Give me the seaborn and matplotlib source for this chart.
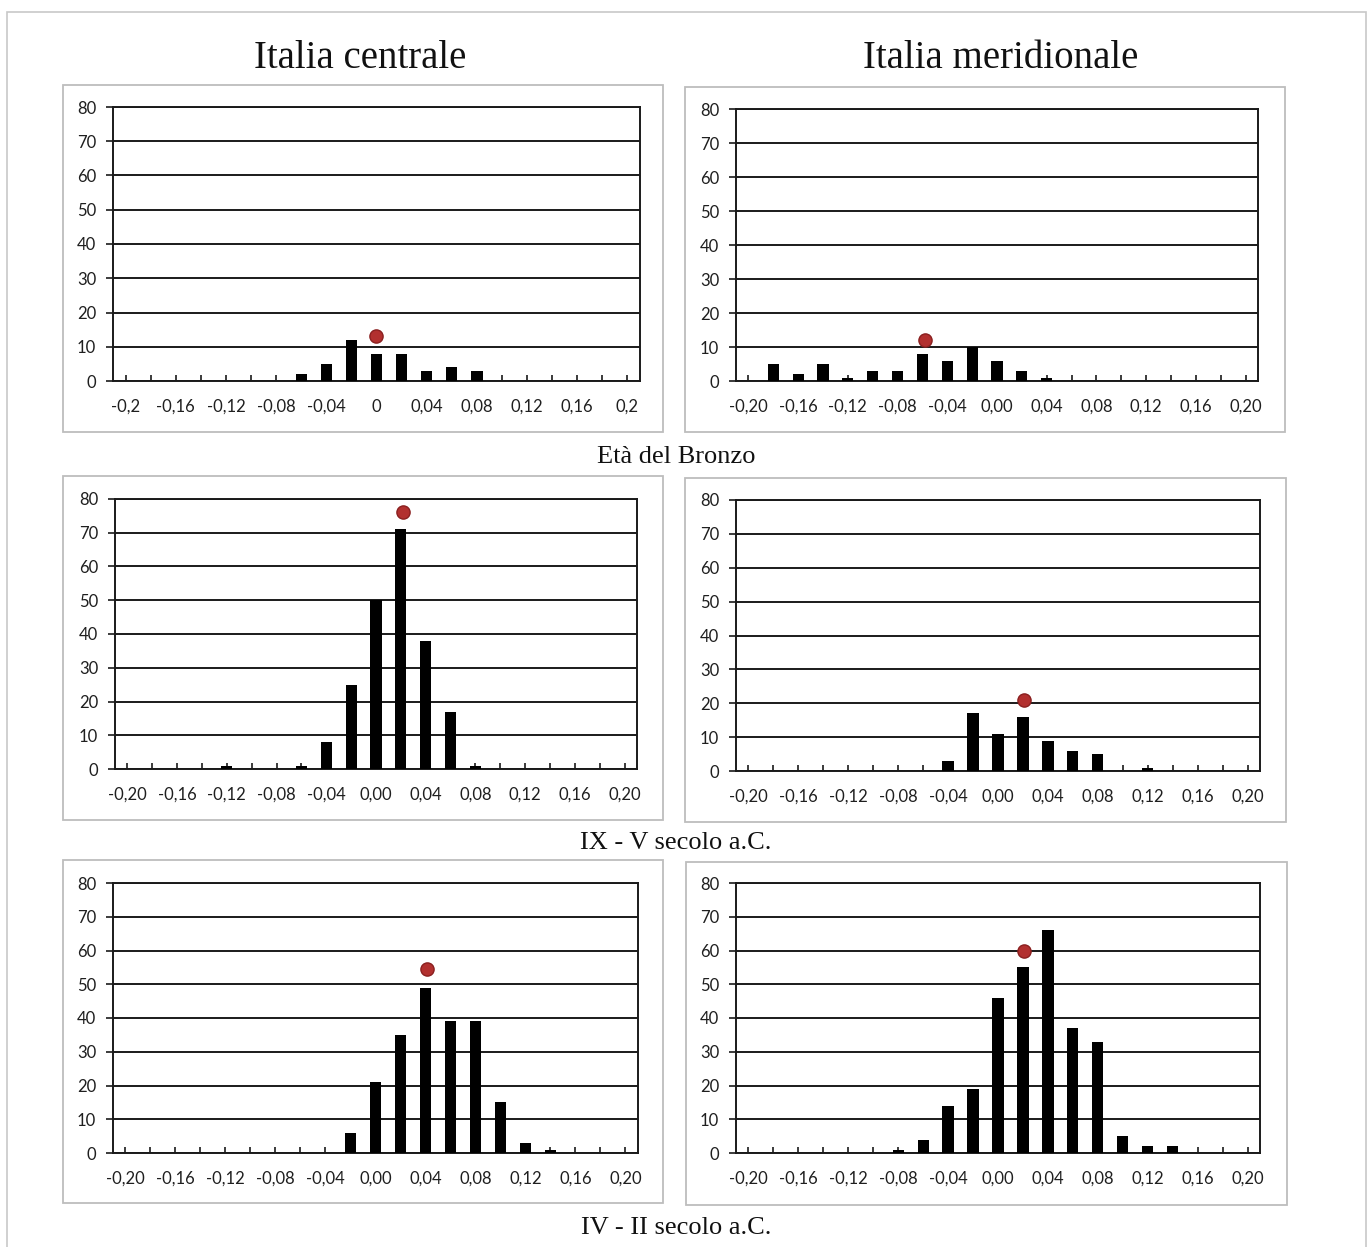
import matplotlib
matplotlib.use("Agg")
import matplotlib.pyplot as plt
from matplotlib.patches import Rectangle
import seaborn as sns

# -----------------------------------------------------------------------------
# dati
# -----------------------------------------------------------------------------
bins = [-0.20, -0.18, -0.16, -0.14, -0.12, -0.10, -0.08, -0.06, -0.04, -0.02, 0.00,
        0.02, 0.04, 0.06, 0.08, 0.10, 0.12, 0.14, 0.16, 0.18, 0.20]

labels_short = ['-0,2', '', '-0,16', '', '-0,12', '', '-0,08', '', '-0,04', '', '0',
                '', '0,04', '', '0,08', '', '0,12', '', '0,16', '', '0,2']
labels_full = ['-0,20', '', '-0,16', '', '-0,12', '', '-0,08', '', '-0,04', '', '0,00',
               '', '0,04', '', '0,08', '', '0,12', '', '0,16', '', '0,20']

# Età del Bronzo
centrale_bronzo = [0, 0, 0, 0, 0, 0, 0, 2, 5, 12, 8, 8, 3, 4, 3, 0, 0, 0, 0, 0, 0]
meridionale_bronzo = [0, 5, 2, 5, 1, 3, 3, 8, 6, 10, 6, 3, 1, 0, 0, 0, 0, 0, 0, 0, 0]
# IX - V secolo a.C.
centrale_ix_v = [0, 0, 0, 0, 1, 0, 0, 1, 8, 25, 50, 71, 38, 17, 1, 0, 0, 0, 0, 0, 0]
meridionale_ix_v = [0, 0, 0, 0, 0, 0, 0, 0, 3, 17, 11, 16, 9, 6, 5, 0, 1, 0, 0, 0, 0]
# IV - II secolo a.C.
centrale_iv_ii = [0, 0, 0, 0, 0, 0, 0, 0, 0, 6, 21, 35, 49, 39, 39, 15, 3, 1, 0, 0, 0]
meridionale_iv_ii = [0, 0, 0, 0, 0, 0, 1, 4, 14, 19, 46, 55, 66, 37, 33, 5, 2, 2, 0, 0, 0]

# punto rosso (valore medio, altezza)
media_x = [0.0, -0.058, 0.022, 0.021, 0.041, 0.021]
media_y = [13, 12, 76, 21, 54.5, 60]

col_titles = ['Italia centrale', 'Italia meridionale']
row_titles = ['Età del Bronzo', 'IX - V secolo a.C.', 'IV - II secolo a.C.']

# -----------------------------------------------------------------------------
W, H = 1370, 1247
sns.set_style("white")
plt.rcParams['font.family'] = ['Lato', 'DejaVu Sans']

fig = plt.figure(figsize=(W / 100, H / 100), dpi=100)


def px_box(x0, y0, x1, y1):
    """Converte un box in pixel (origine in alto) in coordinate figura."""
    return [x0 / W, 1 - y1 / H, (x1 - x0) / W, (y1 - y0) / H]


# cornice esterna
fig.add_artist(Rectangle((7 / W, -0.01), (1366 - 7) / W, 1 - 12 / H + 0.01,
                         transform=fig.transFigure, fill=False, ec='#c8c8c8', lw=1.2))

# riquadri dei singoli grafici
frames = [(63, 85, 663, 432), (685, 87, 1285, 432),
          (63, 476, 663, 820), (685, 478, 1286, 822),
          (63, 860, 663, 1203), (686, 862, 1287, 1205)]
for f in frames:
    b = px_box(*f)
    fig.add_artist(Rectangle((b[0], b[1]), b[2], b[3], transform=fig.transFigure,
                             fill=False, ec='#bdbdbd', lw=1.3))

plot_areas = [(113, 107, 640, 381), (736, 109, 1258, 381),
              (115, 499, 637, 769), (736, 500, 1260, 771),
              (113, 883, 638, 1153), (736, 883, 1260, 1153)]
series = [centrale_bronzo, meridionale_bronzo, centrale_ix_v,
          meridionale_ix_v, centrale_iv_ii, meridionale_iv_ii]

cats = [f"{b:.2f}" for b in bins]

for i, (area, vals) in enumerate(zip(plot_areas, series)):
    ax = fig.add_axes(px_box(*area))
    sns.barplot(x=cats, y=vals, order=cats, color='black', saturation=1,
                width=0.45, errorbar=None, ax=ax, zorder=3, linewidth=0)
    # punto rosso, riportato sulla scala delle categorie
    pos = (media_x[i] - bins[0]) / (bins[1] - bins[0])
    ax.plot(pos, media_y[i], 'o', color='#b2302f', mec='#8a2020', mew=1, ms=9.5, zorder=5)

    ax.set_xlim(-0.5, 20.5)
    ax.set_ylim(0, 80)
    ax.set_yticks(range(0, 81, 10))
    ax.yaxis.grid(True, color='#1a1a1a', lw=1.4)
    ax.set_axisbelow(True)
    ax.set_xticks(range(len(cats)))
    ax.set_xticklabels(labels_short if i == 0 else labels_full)
    ax.set_xlabel('')
    ax.set_ylabel('')
    for s in ax.spines.values():
        s.set_color('#1a1a1a')
        s.set_linewidth(1.4)
    ax.tick_params(axis='y', left=True, direction='out', length=5, width=1.2,
                   color='#1a1a1a', pad=7, labelsize=12, labelcolor='#1f1f1f')
    ax.tick_params(axis='x', bottom=True, direction='in', length=4, width=1.2,
                   color='#1a1a1a', pad=13, labelsize=12, labelcolor='#1f1f1f')
    ax.set_facecolor('white')

# titoli di colonna
fig.text(360 / W, 1 - 58 / H, col_titles[0], ha='center', va='center',
         family='Liberation Serif', fontsize=28, color='#111111')
fig.text(1001 / W, 1 - 58 / H, col_titles[1], ha='center', va='center',
         family='Liberation Serif', fontsize=28, color='#111111')

# etichette di riga
for y, t in zip([457, 843, 1228], row_titles):
    fig.text(676 / W, 1 - y / H, t, ha='center', va='center',
             family='Liberation Serif', fontsize=19, color='#111111')

fig.savefig('out.png', dpi=100, facecolor='white')
